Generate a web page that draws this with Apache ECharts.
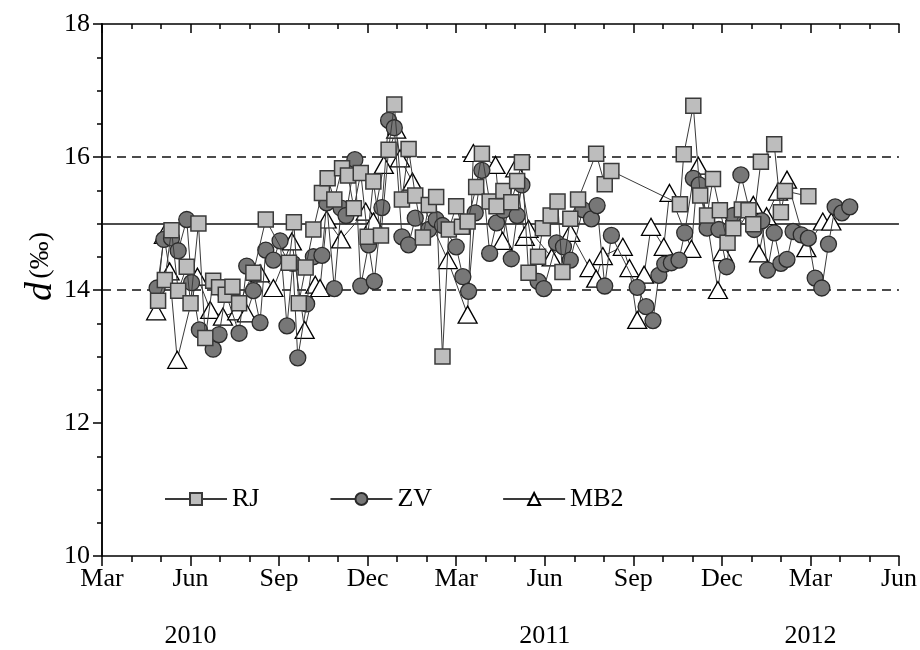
<!DOCTYPE html>
<html><head><meta charset="utf-8">
<script src="https://cdn.jsdelivr.net/npm/echarts@6/dist/echarts.min.js"></script>
<style>html,body{margin:0;padding:0;background:#fff}#c{width:920px;height:650px}</style>
</head><body><div id="c"></div><script>
// ---- data ----
const monthLabels = ['Mar', 'Jun', 'Sep', 'Dec'];
const yearLabels = { 3: '2010', 15: '2011', 24: '2012' };
const axisStart = [2010, 3];          // x axis starts March 2010
const axisMonths = 27;                // ends June 2012
const refLines = [14, 15, 16];

const rjData = [
['2010-04-28',13.84],['2010-05-05',14.15],['2010-05-12',14.90],['2010-05-19',13.99],['2010-05-28',14.35],
['2010-06-01',13.80],['2010-06-09',15.00],['2010-06-16',13.28],['2010-06-24',14.14],['2010-06-30',14.04],
['2010-07-07',13.93],['2010-07-14',14.05],['2010-07-21',13.80],['2010-08-05',14.26],['2010-08-18',15.06],
['2010-09-11',14.41],['2010-09-16',15.02],['2010-09-21',13.80],['2010-09-28',14.34],['2010-10-06',14.91],
['2010-10-15',15.46],['2010-10-21',15.68],['2010-10-28',15.36],['2010-11-05',15.83],['2010-11-11',15.72],
['2010-11-17',15.23],['2010-11-24',15.76],['2010-12-01',14.80],['2010-12-07',15.63],['2010-12-15',14.82],
['2010-12-23',16.11],['2010-12-29',16.79],['2011-01-06',15.36],['2011-01-13',16.12],['2011-01-20',15.42],
['2011-01-28',14.79],['2011-02-03',15.28],['2011-02-10',15.40],['2011-02-16',13.00],['2011-02-22',14.91],
['2011-03-01',15.26],['2011-03-07',14.95],['2011-03-13',15.03],['2011-03-22',15.55],['2011-03-28',16.05],
['2011-04-05',15.33],['2011-04-12',15.26],['2011-04-19',15.49],['2011-04-27',15.32],['2011-05-03',15.64],
['2011-05-08',15.92],['2011-05-15',14.26],['2011-05-25',14.50],['2011-05-30',14.93],['2011-06-07',15.12],
['2011-06-14',15.33],['2011-06-19',14.27],['2011-06-27',15.07],['2011-07-05',15.36],['2011-07-24',16.05],
['2011-08-02',15.59],['2011-08-09',15.79],['2011-10-19',15.29],['2011-10-23',16.04],['2011-11-02',16.77],
['2011-11-09',15.42],['2011-11-16',15.12],['2011-11-22',15.67],['2011-11-29',15.20],['2011-12-07',14.71],
['2011-12-13',14.93],['2011-12-22',15.21],['2011-12-29',15.20],['2012-01-03',14.99],['2012-01-11',15.93],
['2012-01-25',16.19],['2012-02-01',15.17],['2012-02-05',15.49],['2012-02-28',15.41]
];

const zvData = [
['2010-04-27',14.03],['2010-05-04',14.76],['2010-05-12',14.78],['2010-05-19',14.59],['2010-05-28',15.06],
['2010-06-02',14.11],['2010-06-10',13.40],['2010-06-24',13.11],['2010-06-30',13.33],['2010-07-07',13.95],
['2010-07-21',13.35],['2010-07-29',14.36],['2010-08-05',13.99],['2010-08-12',13.51],['2010-08-18',14.60],
['2010-08-26',14.45],['2010-09-02',14.74],['2010-09-09',13.46],['2010-09-15',14.40],['2010-09-20',12.98],
['2010-09-29',13.79],['2010-10-06',14.50],['2010-10-15',14.52],['2010-10-20',15.31],['2010-10-28',14.02],
['2010-11-04',15.23],['2010-11-09',15.12],['2010-11-18',15.96],['2010-11-24',14.06],['2010-12-02',14.68],
['2010-12-08',14.13],['2010-12-16',15.24],['2010-12-23',16.55],['2010-12-29',16.44],['2011-01-06',14.80],
['2011-01-13',14.68],['2011-01-20',15.08],['2011-02-03',14.91],['2011-02-10',15.06],['2011-02-16',14.97],
['2011-03-01',14.65],['2011-03-08',14.20],['2011-03-14',13.98],['2011-03-21',15.16],['2011-03-28',15.80],
['2011-04-05',14.55],['2011-04-12',15.01],['2011-04-19',15.20],['2011-04-27',14.47],['2011-05-03',15.12],
['2011-05-08',15.58],['2011-05-25',14.13],['2011-05-31',14.02],['2011-06-13',14.71],['2011-06-20',14.65],
['2011-06-27',14.45],['2011-07-10',15.21],['2011-07-19',15.07],['2011-07-25',15.27],['2011-08-02',14.06],
['2011-08-09',14.82],['2011-09-05',14.04],['2011-09-14',13.75],['2011-09-21',13.54],['2011-09-27',14.22],
['2011-10-03',14.39],['2011-10-10',14.41],['2011-10-18',14.45],['2011-10-24',14.86],['2011-11-02',15.68],
['2011-11-08',15.58],['2011-11-16',14.93],['2011-11-28',14.91],['2011-12-06',14.35],['2011-12-13',15.12],
['2011-12-21',15.73],['2012-01-04',14.91],['2012-01-12',15.04],['2012-01-18',14.30],['2012-01-25',14.86],
['2012-02-01',14.40],['2012-02-07',14.46],['2012-02-13',14.88],['2012-02-21',14.83],['2012-02-28',14.78],
['2012-03-06',14.18],['2012-03-13',14.03],['2012-03-20',14.69],['2012-03-27',15.25],['2012-04-03',15.16],
['2012-04-11',15.25]
];

const mb2Data = [
['2010-04-26',13.68],['2010-05-04',14.83],['2010-05-10',14.28],['2010-05-18',12.95],['2010-06-08',14.20],
['2010-06-21',13.70],['2010-07-04',13.60],['2010-07-19',13.68],['2010-07-29',13.65],['2010-08-12',14.25],
['2010-08-26',14.03],['2010-09-14',14.73],['2010-09-27',13.40],['2010-10-08',14.08],['2010-10-13',14.03],
['2010-10-20',15.06],['2010-11-04',14.76],['2010-11-29',15.18],['2010-12-07',15.03],['2010-12-18',15.88],
['2010-12-31',16.41],['2011-01-04',15.98],['2011-01-17',15.63],['2011-02-21',14.45],['2011-03-13',13.63],
['2011-03-19',16.06],['2011-04-11',15.88],['2011-04-18',14.74],['2011-05-01',15.83],['2011-05-11',14.80],
['2011-05-15',14.92],['2011-06-08',14.49],['2011-06-27',14.86],['2011-07-17',14.33],['2011-07-24',14.17],
['2011-07-31',14.51],['2011-08-21',14.65],['2011-08-28',14.33],['2011-09-05',13.55],['2011-09-12',14.23],
['2011-09-19',14.95],['2011-10-02',14.65],['2011-10-08',15.46],['2011-10-31',14.62],['2011-11-07',15.87],
['2011-11-27',14.00],['2011-12-02',14.57],['2012-01-03',15.28],['2012-01-09',14.55],['2012-01-17',15.11],
['2012-01-29',15.48],['2012-02-07',15.66],['2012-02-26',14.63],['2012-03-14',15.03],['2012-03-23',15.03]
];

// ---- helpers ----
function toMonthIndex(s) {
  const [y, m, d] = s.split('-').map(Number);
  const dim = new Date(y, m, 0).getDate();
  return (y - axisStart[0]) * 12 + (m - axisStart[1]) + (d - 1) / dim;
}
const conv = arr => arr.map(p => [toMonthIndex(p[0]), p[1]]);

const FONT = '"Liberation Serif","Times New Roman",serif';
const BLACK = '#000';

const chart = echarts.init(document.getElementById('c'), null, { renderer: 'canvas' });

const lineStyle = { color: '#3a3a3a', width: 1 };

chart.setOption({
  backgroundColor: '#fff',
  animation: false,
  grid: { left: 102, right: 21, top: 24, bottom: 94, containLabel: false },
  legend: {
    data: ['RJ', 'ZV', 'MB2'],
    left: 159, top: 481,
    itemWidth: 62, itemHeight: 15, itemGap: 70,
    textStyle: { fontFamily: FONT, fontSize: 26, color: BLACK, padding: [0, 0, 0, 0] }
  },
  xAxis: [{
    type: 'value', min: 0, max: axisMonths, interval: 3, position: 'bottom',
    axisLine: { lineStyle: { color: BLACK, width: 1.5 } },
    axisTick: { inside: false, length: 10, lineStyle: { color: BLACK, width: 1.5 } },
    minorTick: { show: true, splitNumber: 3, length: 6, lineStyle: { color: BLACK, width: 1.5 } },
    splitLine: { show: false },
    axisLabel: {
      margin: 8, showMinLabel: true, showMaxLabel: true, hideOverlap: false,
      formatter: v => {
        const m = monthLabels[Math.round(v / 3) % 4];
        const y = yearLabels[Math.round(v)];
        return y ? '{m|' + m + '}\n{y|' + y + '}' : '{m|' + m + '}';
      },
      rich: {
        m: { fontFamily: FONT, fontSize: 26, color: BLACK, lineHeight: 30 },
        y: { fontFamily: FONT, fontSize: 26, color: BLACK, lineHeight: 84 }
      }
    }
  }, {
    type: 'value', min: 0, max: axisMonths, interval: 3, position: 'top',
    axisLine: { lineStyle: { color: BLACK, width: 1.5 } },
    axisTick: { inside: true, length: 9, lineStyle: { color: BLACK, width: 1.5 } },
    minorTick: { show: true, splitNumber: 3, length: 5, lineStyle: { color: BLACK, width: 1.5 } },
    axisLabel: { show: false }, splitLine: { show: false }
  }],
  yAxis: [{
    type: 'value', min: 10, max: 18, interval: 2, position: 'left',
    axisLine: { show: true, lineStyle: { color: BLACK, width: 1.5 } },
    axisTick: { inside: false, length: 9, lineStyle: { color: BLACK, width: 1.5 } },
    minorTick: { show: true, splitNumber: 4, length: 5, lineStyle: { color: BLACK, width: 1.5 } },
    splitLine: { show: false },
    axisLabel: { margin: 12, fontFamily: FONT, fontSize: 26, color: BLACK }
  }, {
    type: 'value', min: 10, max: 18, interval: 2, position: 'right',
    axisLine: { show: true, lineStyle: { color: BLACK, width: 1.5 } },
    axisTick: { inside: true, length: 7, lineStyle: { color: BLACK, width: 1.5 } },
    minorTick: { show: true, splitNumber: 4, length: 5, lineStyle: { color: BLACK, width: 1.5 } },
    axisLabel: { show: false }, splitLine: { show: false }
  }],
  graphic: [{
    type: 'text', left: 22, top: 232, rotation: Math.PI / 2, originX: 0, originY: 0,
    style: {
      text: '{d|d} {p|(‰)}',
      rich: {
        d: { fontFamily: FONT, fontSize: 38, fontStyle: 'italic', fill: BLACK },
        p: { fontFamily: FONT, fontSize: 28, fill: BLACK }
      }
    }
  }],
  series: [{
    name: 'MB2', type: 'line', data: conv(mb2Data), z: 2,
    symbol: 'triangle', symbolSize: [19, 17],
    itemStyle: { color: '#fff', borderColor: '#000', borderWidth: 1.3 },
    lineStyle: lineStyle,
    markLine: {
      silent: true, symbol: 'none', z: 1, label: { show: false },
      data: refLines.map(v => ({
        yAxis: v,
        lineStyle: { color: '#111', width: 1.5, type: v === 15 ? 'solid' : [9, 6] }
      }))
    }
  }, {
    name: 'ZV', type: 'line', data: conv(zvData), z: 3,
    symbol: 'circle', symbolSize: 16,
    itemStyle: { color: '#777', borderColor: '#2a2a2a', borderWidth: 1.3 },
    lineStyle: lineStyle
  }, {
    name: 'RJ', type: 'line', data: conv(rjData), z: 4,
    symbol: 'rect', symbolSize: 15,
    itemStyle: { color: '#bdbdbd', borderColor: '#3a3a3a', borderWidth: 1.5 },
    lineStyle: lineStyle
  }]
});
</script></body></html>
